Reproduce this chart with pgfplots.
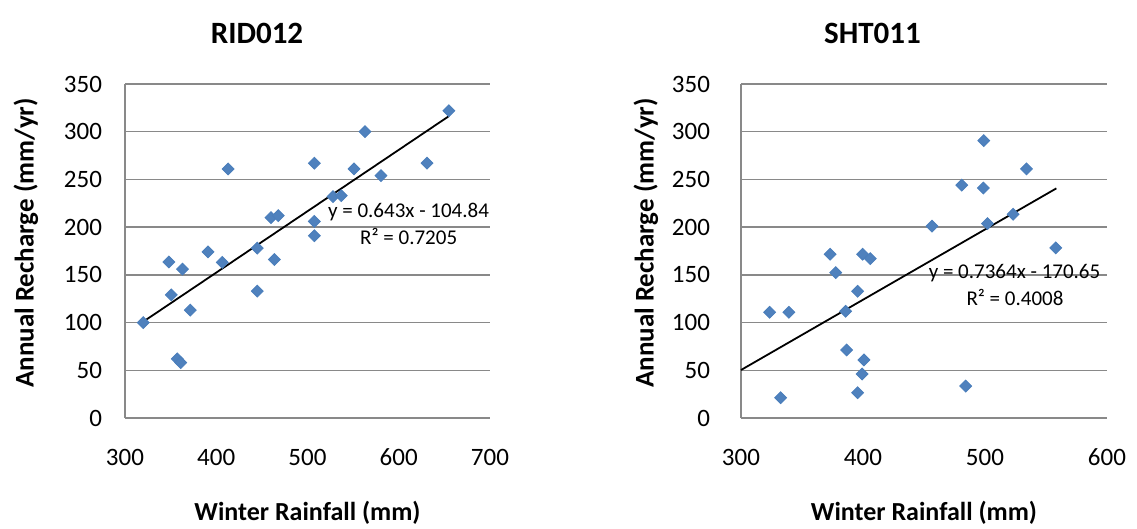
\documentclass[border=0pt]{standalone}
\usepackage{fontspec}
\setmainfont{Carlito}
\usepackage{pgfplots}
\pgfplotsset{compat=1.18}
\definecolor{ptblue}{HTML}{4F81BD}
\definecolor{ptedge}{HTML}{4A7EBB}
\definecolor{gridgray}{HTML}{898989}
\begin{document}
\begin{tikzpicture}
\path[use as bounding box] (0pt,0pt) rectangle (568.5pt,264.5pt);
\pgfplotsset{myax/.style={
  scale only axis, height=167pt,
  ymin=0, ymax=350, ytick={0,50,...,350},
  axis lines*=left,
  axis line style={draw=gridgray, line width=0.7pt},
  ymajorgrids, grid style={draw=gridgray, line width=0.7pt},
  major tick length=0pt,
  tick style={draw=none},
  /pgf/number format/assume math mode=true,
  ticklabel style={font=\fontsize{12.5}{15}\selectfont},
  xticklabel style={yshift=-12pt},
  clip=false,
}}
\begin{axis}[myax, at={(62.5pt,55.5pt)}, anchor=south west, width=182.5pt,
  xmin=300, xmax=700, xtick={300,400,...,700},
  yticklabel style={xshift=-8pt}]
\addplot[only marks, mark=square*, mark size=2.1pt, mark options={rotate=45, fill=ptblue, draw=ptedge}] coordinates {
(655,322) (563,300) (631,267) (507.5,267) (413,261) (551,261) (580.5,254)
(528,232) (537,233) (460,210) (468,212) (507.5,206) (507.5,191) (445,178)
(391,174) (348,163.5) (406.6,163) (463.7,166) (363,156) (350.8,129)
(445,133) (371.6,113) (320,100) (357.3,62) (361,58)
};
\addplot[black, line width=0.9pt, no marks] coordinates {(320,100.92) (655,316.33)};
\node[font=\fontsize{10.5}{12}\selectfont] at (axis cs:610.7,216.2) {y = 0.643x - 104.84};
\node[font=\fontsize{10.5}{12}\selectfont] at (axis cs:610.9,190) {R² = 0.7205};
\end{axis}
\begin{axis}[myax, at={(370.5pt,55.5pt)}, anchor=south west, width=183pt,
  xmin=300, xmax=600, xtick={300,400,...,600},
  yticklabel style={xshift=-12pt}]
\addplot[only marks, mark=square*, mark size=2.1pt, mark options={rotate=45, fill=ptblue, draw=ptedge}] coordinates {
(499,290.7) (534,261) (481,244) (498.6,241) (523,213.5) (502,203.7) (456.6,201)
(558,178.2) (373,171.6) (399.7,171.6) (406,167) (377.6,152.3) (395.6,132.8)
(323.5,110.8) (339.3,110.8) (385.8,111.8) (386.6,71.3) (400.8,60.8) (399.2,46.1)
(484.2,33.5) (395.6,26.5) (332.5,21.3)
};
\addplot[black, line width=0.9pt, no marks] coordinates {(300,50.27) (558.5,240.63)};
\node[font=\fontsize{10.5}{12}\selectfont] at (axis cs:524.2,152.3) {y = 0.7364x - 170.65};
\node[font=\fontsize{10.5}{12}\selectfont] at (axis cs:524.6,126.1) {R² = 0.4008};
\end{axis}
\node[font=\fontsize{15.5}{18}\selectfont\bfseries] at (128.5pt,248pt) {RID012};
\node[font=\fontsize{15.5}{18}\selectfont\bfseries] at (436.25pt,248pt) {SHT011};
\node[font=\fontsize{13}{15}\selectfont\bfseries] at (153.75pt,8pt) {Winter Rainfall (mm)};
\node[font=\fontsize{13}{15}\selectfont\bfseries] at (462pt,8pt) {Winter Rainfall (mm)};
\node[font=\fontsize{13.5}{15}\selectfont\bfseries, rotate=90] at (13pt,143pt) {Annual Recharge (mm/yr)};
\node[font=\fontsize{13.5}{15}\selectfont\bfseries, rotate=90] at (323pt,143pt) {Annual Recharge (mm/yr)};
\end{tikzpicture}
\end{document}
